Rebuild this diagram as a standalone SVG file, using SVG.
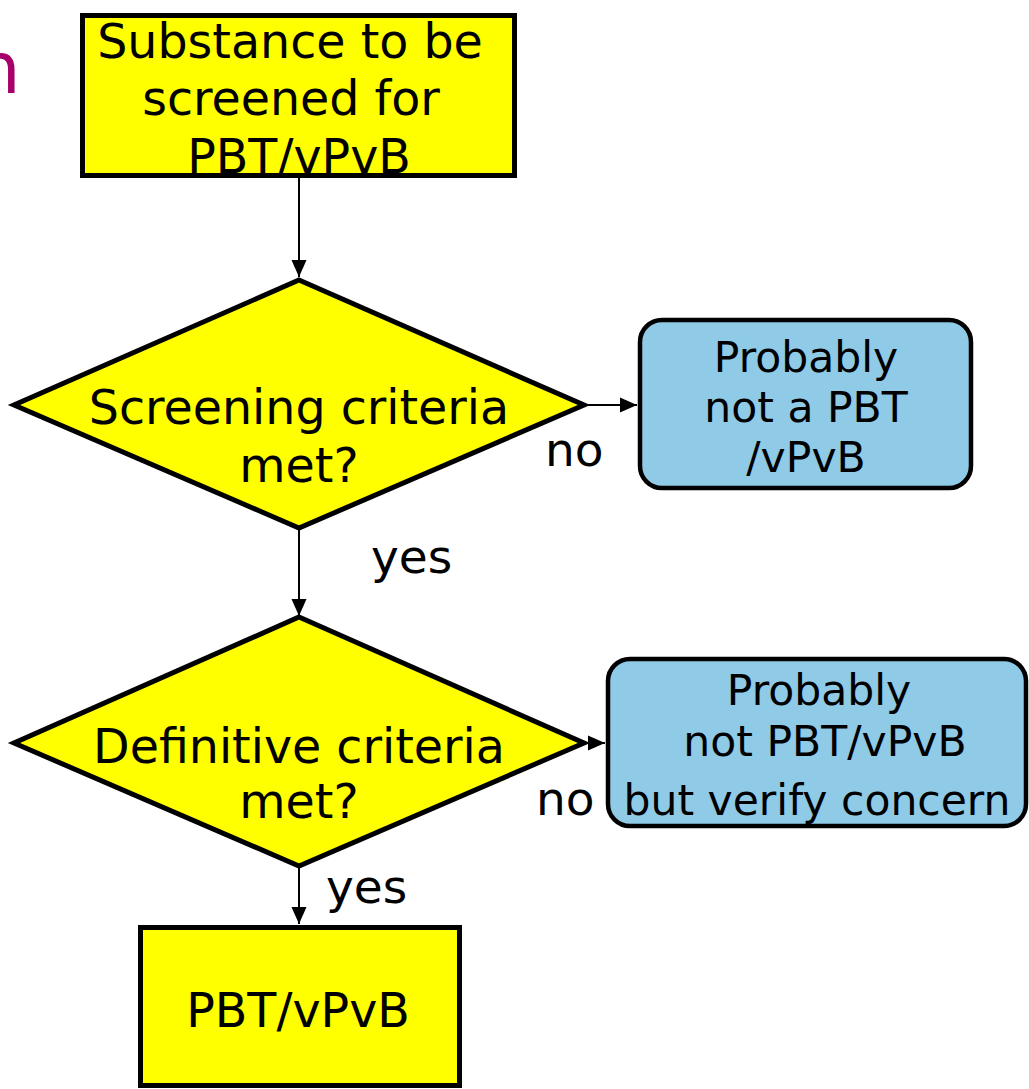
<svg xmlns="http://www.w3.org/2000/svg" width="1029" height="1089" viewBox="0 0 1029 1089">
<style>
text{font-family:"DejaVu Sans","Verdana",sans-serif;fill:#000;text-anchor:middle}
.big{font-size:47.5px}
.mid{font-size:42.5px}
.lbl{font-size:47px;text-anchor:start}
.y{fill:#FFFF00;stroke:#000;stroke-width:5}
.b{fill:#8FCAE7;stroke:#000;stroke-width:4.5}
.c{stroke:#000;stroke-width:2;fill:none;marker-end:url(#ah)}
</style>
<defs>
<marker id="ah" markerUnits="userSpaceOnUse" markerWidth="17" markerHeight="16" viewBox="0 0 17 16" refX="17" refY="8" orient="auto">
<path d="M0,0.5 L17,8 L0,15.5 Z" fill="#000"/>
</marker>
</defs>
<rect width="1029" height="1089" fill="#fff"/>
<text x="-25" y="93" style="font-size:72px;fill:#A8006A;text-anchor:start">n</text>
<g id="connectors">
<line class="c" x1="299" y1="178" x2="299" y2="277"/>
<line class="c" x1="584" y1="405" x2="637" y2="405"/>
<line class="c" x1="299" y1="528" x2="299" y2="616"/>
<line class="c" x1="584" y1="743" x2="605" y2="743"/>
<line class="c" x1="299" y1="866" x2="299" y2="924"/>
<text class="lbl" x="545" y="466">no</text>
<text class="lbl" x="371" y="573">yes</text>
<text class="lbl" x="536" y="815">no</text>
<text class="lbl" x="326" y="903">yes</text>
</g>
<g id="start">
<rect class="y" x="82.5" y="15.5" width="432" height="160"/>
<text class="big" x="290" y="58">Substance to be</text>
<text class="big" x="291" y="115">screened for</text>
<text class="big" x="299" y="173">PBT/vPvB</text>
</g>
<g id="screening">
<polygon class="y" points="299,280 584,405 299,528 14,405"/>
<text class="big" x="299" y="424">Screening criteria</text>
<text class="big" x="299" y="482">met?</text>
</g>
<g id="not-pbt">
<rect class="b" x="640" y="320" width="331" height="168" rx="22"/>
<text class="mid" x="806" y="372">Probably</text>
<text class="mid" x="806" y="422">not a PBT</text>
<text class="mid" x="806" y="472">/vPvB</text>
</g>
<g id="definitive">
<polygon class="y" points="299,617 584,743 299,866 14,743"/>
<text class="big" x="299" y="763">Definitive criteria</text>
<text class="big" x="299" y="818">met?</text>
</g>
<g id="verify">
<rect class="b" x="608" y="659" width="418" height="167" rx="22"/>
<text class="mid" x="819" y="705">Probably</text>
<text class="mid" x="825" y="756">not PBT/vPvB</text>
<text class="mid" x="817" y="815">but verify concern</text>
</g>
<g id="pbt">
<rect class="y" x="140.5" y="927.5" width="319" height="158"/>
<text class="big" x="298" y="1027">PBT/vPvB</text>
</g>
</svg>
